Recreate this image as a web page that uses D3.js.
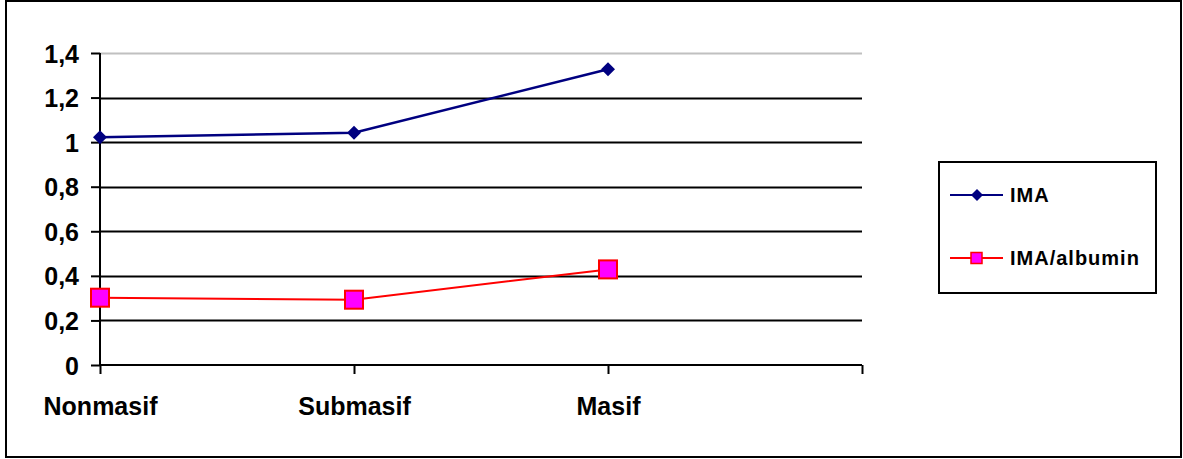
<!DOCTYPE html>
<html>
<head>
<meta charset="utf-8">
<script src="https://cdn.jsdelivr.net/npm/d3@7"></script>
<style>
  html, body { margin: 0; padding: 0; background: #fff; }
  svg { display: block; }
  text { font-family: "Liberation Sans", Arial, sans-serif; font-weight: bold; fill: #000; }
</style>
</head>
<body>
<svg id="chart" width="1183" height="459"></svg>
<script>
// Categories along the x axis (a fourth, empty slot closes the axis)
const categories = ["Nonmasif", "Submasif", "Masif"];
const seriesNames = ["IMA", "IMA/albumin"];
const imaValues = [1.022, 1.042, 1.327];
const imaAlbuminValues = [0.302, 0.293, 0.429];
const yTicks = [0, 0.2, 0.4, 0.6, 0.8, 1, 1.2, 1.4];
const yTickLabels = ["0", "0,2", "0,4", "0,6", "0,8", "1", "1,2", "1,4"];

const svg = d3.select("#chart");

// outer frame
svg.append("rect")
  .attr("x", 6).attr("y", 1).attr("width", 1175).attr("height", 456)
  .attr("fill", "#fff").attr("stroke", "#000").attr("stroke-width", 2);

const plot = { left: 100, right: 862, top: 53, bottom: 365 };

const x = d3.scaleLinear().domain([0, categories.length]).range([plot.left, plot.right]);
const y = d3.scaleLinear().domain([0, 1.4]).range([plot.bottom, plot.top]);

// horizontal gridlines
svg.append("g").selectAll("line")
  .data(yTicks.filter(v => v > 0))
  .join("line")
  .attr("x1", plot.left).attr("x2", plot.right)
  .attr("y1", d => Math.round(y(d)) + 0.5).attr("y2", d => Math.round(y(d)) + 0.5)
  .attr("stroke", d => d === 1.4 ? "#c0c0c0" : "#000")
  .attr("stroke-width", 2);

// y axis
const yAxis = d3.axisLeft(y)
  .tickValues(yTicks)
  .tickSize(9)
  .tickPadding(12)
  .tickFormat((d, i) => yTickLabels[i]);
const gy = svg.append("g").attr("transform", `translate(${plot.left},0)`).call(yAxis);
gy.select(".domain").attr("stroke", "#000").attr("stroke-width", 2).attr("d", `M0,${plot.top}V${plot.bottom}`);
gy.selectAll(".tick line").attr("stroke", "#000").attr("stroke-width", 2);
gy.selectAll(".tick text")
  .attr("font-size", 25).attr("font-family", "Liberation Sans, Arial, sans-serif")
  .attr("font-weight", "bold").attr("fill", "#000").attr("dy", "0.36em");

// x axis
const xAxis = d3.axisBottom(x)
  .tickValues(d3.range(categories.length + 1))
  .tickSize(9)
  .tickPadding(23)
  .tickFormat(i => categories[i] || "");
const gx = svg.append("g").attr("transform", `translate(0,${plot.bottom})`).call(xAxis);
gx.select(".domain").attr("stroke", "#000").attr("stroke-width", 2).attr("d", `M${plot.left},0H${plot.right}`);
gx.selectAll(".tick line").attr("stroke", "#000").attr("stroke-width", 2);
gx.selectAll(".tick text")
  .attr("font-size", 25).attr("font-family", "Liberation Sans, Arial, sans-serif")
  .attr("font-weight", "bold").attr("fill", "#000");

const line = d3.line().x((d, i) => x(i)).y(d => y(d));

// IMA series
svg.append("path").datum(imaValues)
  .attr("d", line).attr("fill", "none").attr("stroke", "#000080").attr("stroke-width", 2.5);
const diamond = s => `M0,${-s}L${s},0L0,${s}L${-s},0Z`;
svg.append("g").selectAll("path")
  .data(imaValues).join("path")
  .attr("transform", (d, i) => `translate(${x(i)},${y(d)})`)
  .attr("d", diamond(7))
  .attr("fill", "#000080");

// IMA/albumin series
svg.append("path").datum(imaAlbuminValues)
  .attr("d", line).attr("fill", "none").attr("stroke", "#ff0000").attr("stroke-width", 2);
svg.append("g").selectAll("rect")
  .data(imaAlbuminValues).join("rect")
  .attr("x", (d, i) => x(i) - 9).attr("y", d => y(d) - 9)
  .attr("width", 18).attr("height", 18)
  .attr("fill", "#ff00ff").attr("stroke", "#ff0000").attr("stroke-width", 2);

// legend
const legend = svg.append("g");
legend.append("rect")
  .attr("x", 939).attr("y", 162).attr("width", 217).attr("height", 131)
  .attr("fill", "#fff").attr("stroke", "#000").attr("stroke-width", 2);
const legendRows = [
  { name: seriesNames[0], y: 195, color: "#000080", marker: "diamond" },
  { name: seriesNames[1], y: 258, color: "#ff0000", marker: "square" }
];
legendRows.forEach(r => {
  legend.append("line")
    .attr("x1", 950).attr("x2", 1003).attr("y1", r.y).attr("y2", r.y)
    .attr("stroke", r.color).attr("stroke-width", 2);
  if (r.marker === "diamond") {
    legend.append("path").attr("transform", `translate(977,${r.y})`)
      .attr("d", diamond(6)).attr("fill", "#000080");
  } else {
    legend.append("rect").attr("x", 971).attr("y", r.y - 5.5).attr("width", 11).attr("height", 11)
      .attr("fill", "#ff00ff").attr("stroke", "#ff0000").attr("stroke-width", 1.5);
  }
  legend.append("text")
    .attr("x", 1010).attr("y", r.y).attr("dy", "0.36em")
    .attr("font-size", 20).attr("letter-spacing", 1).text(r.name);
});
</script>
</body>
</html>
